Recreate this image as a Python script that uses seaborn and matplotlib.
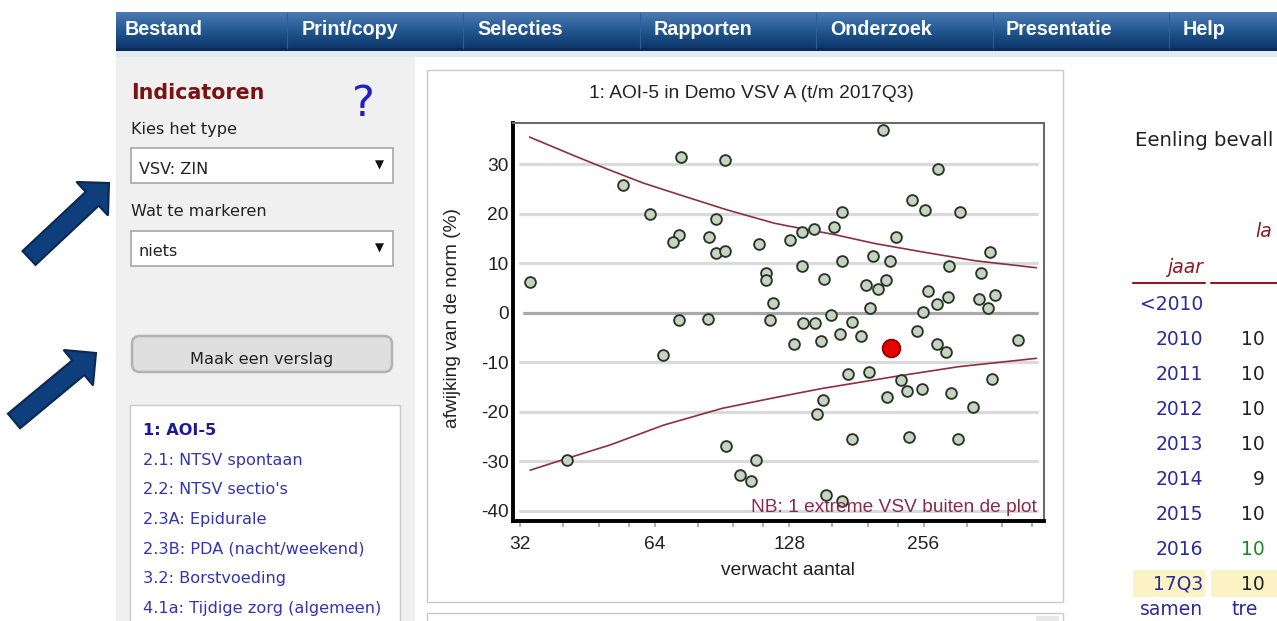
import matplotlib
matplotlib.use("Agg")
import numpy as np
import pandas as pd
import matplotlib.pyplot as plt
import seaborn as sns
from matplotlib import font_manager as fm
from matplotlib.colors import LinearSegmentedColormap
from matplotlib.patches import Rectangle, FancyBboxPatch, FancyArrow
from matplotlib.ticker import NullFormatter

# ---------------- data ----------------
expected = [33.6, 54.5, 62.5, 73.2, 92.0, 87.8, 72.7, 70.5, 84.7, 88.0,
            92.0, 109.8, 113.7, 113.7, 118.0, 72.7, 84.5, 116.0, 67.0, 40.8,
            92.5, 108.0, 99.5, 105.0, 207.5, 276.0, 241.7, 258.0, 309.0, 167.8,
            128.9, 136.6, 145.4, 161.7, 221.7, 360.6, 136.6, 167.8, 196.9, 215.0,
            292.0, 344.5, 153.6, 189.9, 202.8, 210.7, 262.5, 290.0, 275.0, 341.0,
            370.0, 356.6, 194.3, 255.8, 137.8, 146.3, 158.9, 176.8, 247.0, 131.5,
            150.7, 166.5, 185.5, 275.0, 287.5, 416.0, 173.8, 193.6, 227.5, 235.4,
            253.6, 211.7, 295.0, 363.7, 330.9, 152.2, 147.9, 176.8, 237.5, 305.3,
            154.9, 167.8]
deviation = [6.2, 25.8, 20.0, 31.5, 30.9, 18.9, 15.7, 14.3, 15.4, 12.1,
             12.5, 13.9, 8.0, 6.6, 2.0, -1.5, -1.2, -1.5, -8.5, -29.7,
             -27.0, -29.7, -32.8, -33.9, 36.9, 29.1, 22.8, 20.8, 20.3, 20.4,
             14.7, 16.4, 16.9, 17.3, 15.4, 12.2, 9.45, 10.5, 11.5, 10.5,
             9.45, 8.0, 6.9, 5.6, 4.8, 6.6, 4.5, 3.1, 1.7, 2.7,
             3.5, 0.9, 0.9, 0.2, -2.1, -2.1, -0.45, -1.8, -3.6, -6.4,
             -5.7, -4.3, -4.7, -6.4, -7.9, -5.4, -12.4, -12.0, -13.6, -15.9,
             -15.3, -17.1, -16.3, -13.4, -19.1, -17.6, -20.4, -25.4, -25.0, -25.4,
             -36.9, -38.0]
focus_expected = [217.0]
focus_deviation = [-7.2]

upper_x = [33.6, 42.9, 50.9, 60.4, 74.2, 92.9, 118.6, 128.0, 161.7, 199.0, 258.0, 335.0, 458.0]
upper_y = [35.5, 31.5, 28.8, 26.2, 23.6, 20.8, 18.1, 17.5, 15.8, 14.0, 12.2, 10.5, 9.1]
lower_x = [33.7, 40.8, 50.9, 67.0, 90.7, 118.0, 151.5, 220.0, 306.0, 458.0]
lower_y = [-31.8, -29.4, -26.7, -22.7, -19.3, -17.2, -15.3, -12.9, -10.9, -9.2]

x_ticks = [32, 64, 128, 256]
x_minor = [40, 48, 56, 80, 96, 112, 160, 192, 224, 320, 384, 448]
y_ticks = [-40, -30, -20, -10, 0, 10, 20, 30]

chart_title = "1: AOI-5 in Demo VSV A (t/m 2017Q3)"
x_label = "verwacht aantal"
y_label = "afwijking van de norm (%)"
note = "NB: 1 extreme VSV buiten de plot"

menu_items = ["Bestand", "Print/copy", "Selecties", "Rapporten",
              "Onderzoek", "Presentatie", "Help"]
indicators = ["1: AOI-5", "2.1: NTSV spontaan", "2.2: NTSV sectio's",
              "2.3A: Epidurale", "2.3B: PDA (nacht/weekend)",
              "3.2: Borstvoeding", "4.1a: Tijdige zorg (algemeen)"]
years = ["<2010", "2010", "2011", "2012", "2013", "2014", "2015", "2016", "17Q3", "samen"]
year_counts = ["", "10", "10", "10", "10", "9", "10", "10", "10", "tre"]

df = pd.DataFrame({"verwacht": expected, "afwijking": deviation})
df_focus = pd.DataFrame({"verwacht": focus_expected, "afwijking": focus_deviation})
df_up = pd.DataFrame({"verwacht": upper_x, "grens": upper_y})
df_lo = pd.DataFrame({"verwacht": lower_x, "grens": lower_y})

# ---------------- style ----------------
sns.set_theme(style="white")
plt.rcParams['font.family'] = ['Liberation Sans', 'DejaVu Sans']
plt.rcParams['axes.unicode_minus'] = False

names = {f.name for f in fm.fontManager.ttflist}
if 'Liberation Sans Narrow' in names:
    menu_font, menu_size = ['Liberation Sans Narrow', 'DejaVu Sans'], 16.8
else:
    menu_font, menu_size = ['Liberation Sans', 'DejaVu Sans'], 14.2
ui_font = ['DejaVu Sans']

W, H = 1277, 621
fig = plt.figure(figsize=(W / 100, H / 100), dpi=100)
fig.patch.set_facecolor('white')

# ---------------- page chrome (pixel coordinates) ----------------
ui = fig.add_axes([0, 0, 1, 1], zorder=0)
ui.axis('off')

grad = np.linspace(0, 1, 64).reshape(-1, 1)
cmap = LinearSegmentedColormap.from_list('menu', ['#4a7bb2', '#245791', '#0b3568'])
ui.imshow(grad, extent=[116, W, 49, 12], cmap=cmap, aspect='auto',
          interpolation='bilinear', zorder=1)
ui.add_patch(Rectangle((116, 48), W - 116, 3, fc='#0a2b55', ec='none', zorder=2))
ui.add_patch(Rectangle((116, 51), W - 116, 6, fc='#e2ebf3', ec='none', zorder=2))
for i in range(1, len(menu_items)):
    xs = 110 + i * 176.5
    ui.plot([xs, xs], [13, 48], color='#2d5f96', lw=0.8, zorder=3)
for i, item in enumerate(menu_items):
    ui.text(125 + i * 176.2, 35, item, ha='left', va='baseline', color='white',
            fontsize=menu_size, fontweight='bold', family=menu_font, zorder=4)

# left panel
ui.add_patch(Rectangle((116, 57), 299, H - 57, fc='#f0f0f0', ec='none', zorder=1))
ui.text(131, 99.3, "Indicatoren", ha='left', va='baseline', color='#7a1212',
        fontsize=14.9, fontweight='bold', family=ui_font, zorder=4)
ui.text(363, 104, "?", ha='center', va='center', color='#1f1fc4',
        fontsize=31, family=ui_font, zorder=4)
ui.text(131, 134, "Kies het type", ha='left', va='baseline', color='#222222',
        fontsize=11.6, family=ui_font, zorder=4)
ui.text(131, 216, "Wat te markeren", ha='left', va='baseline', color='#222222',
        fontsize=11.6, family=ui_font, zorder=4)
for top, label, base in [(148, "VSV: ZIN", 174), (231, "niets", 256)]:
    ui.add_patch(Rectangle((131, top), 262, 35, fc='white', ec='#a6a6a6', lw=1.2, zorder=2))
    ui.text(139, base, label, ha='left', va='baseline', color='#222222',
            fontsize=11.6, family=ui_font, zorder=4)
    ui.text(379, top + 17, "\u25BC", ha='center', va='center', color='#111111',
            fontsize=8.5, family=ui_font, zorder=4)
ui.add_patch(FancyBboxPatch((132, 336), 260, 36, boxstyle='round,pad=0,rounding_size=8',
                            fc='#dfdfdf', ec='#b3b3b3', lw=1.8, zorder=2))
ui.text(262, 364, "Maak een verslag", ha='center', va='baseline', color='#222222',
        fontsize=11.6, family=ui_font, zorder=4)
ui.add_patch(Rectangle((130, 405), 270, 240, fc='white', ec='#c9c9c9', lw=1.0, zorder=2))
for i, item in enumerate(indicators):
    ui.text(143, 435 + i * 29.7, item, ha='left', va='baseline',
            color='#1a1a98' if i == 0 else '#3434b4',
            fontweight='bold' if i == 0 else 'normal',
            fontsize=11.6, family=ui_font, zorder=4)

# arrows
for (x0, y0, dx, dy) in [(29, 258, 80, -75), (14, 421, 82, -68)]:
    ui.add_patch(FancyArrow(x0, y0, dx, dy, width=19, head_width=46, head_length=23,
                            length_includes_head=True, fc='#0e3f7c', ec='#0a2850',
                            lw=1.5, zorder=5))

# chart panel
ui.add_patch(Rectangle((427, 70), 636, 532, fc='white', ec='#cbcbcb', lw=1.0, zorder=1))
ui.add_patch(Rectangle((427, 613), 636, 30, fc='white', ec='#cbcbcb', lw=1.0, zorder=1))
ui.add_patch(Rectangle((1036, 616), 23, 20, fc='#e8e8e8', ec='none', zorder=2))

# right table
ui.text(1135, 146, "Eenling bevall", ha='left', va='baseline', color='#222222',
        fontsize=14.2, family=ui_font, zorder=4)
ui.text(1255, 237, "la", ha='left', va='baseline', color='#8b1a2a',
        fontsize=13.5, style='italic', family=ui_font, zorder=4)
ui.text(1203, 273, "jaar", ha='right', va='baseline', color='#8b1a2a',
        fontsize=13.5, style='italic', family=ui_font, zorder=4)
ui.plot([1133, 1205], [283, 283], color='#8b1a2a', lw=1.5, zorder=3)
ui.plot([1211, 1277], [283, 283], color='#8b1a2a', lw=1.5, zorder=3)
ui.add_patch(Rectangle((1133, 570), 72, 27, fc='#fbf3c4', ec='none', zorder=2))
ui.add_patch(Rectangle((1211, 570), 66, 27, fc='#fbf3c4', ec='none', zorder=2))
for i, (yr, cnt) in enumerate(zip(years, year_counts)):
    base = 310 + i * 35 if yr != "samen" else 615
    ui.text(1203, base, yr, ha='right', va='baseline', color='#2b2b9b',
            fontsize=13.5, family=ui_font, zorder=4)
    if yr == "samen":
        ui.text(1232, base, cnt, ha='left', va='baseline', color='#2b2b9b',
                fontsize=13.5, family=ui_font, zorder=4)
    elif cnt:
        ui.text(1265, base, cnt, ha='right', va='baseline',
                color='#1c8a1c' if yr == "2016" else '#222222',
                fontsize=13.5, family=ui_font, zorder=4)

ui.set_xlim(0, W)
ui.set_ylim(H, 0)

# ---------------- the chart ----------------
L, R, T, B = 513.3, 1044.3, 122.7, 520.7
ax = fig.add_axes([L / W, 1 - B / H, (R - L) / W, (B - T) / H], zorder=3)
ax.set_facecolor('white')
ax.set_xscale('log', base=2)

for t in y_ticks:
    ax.axhline(t, xmin=0.012 if t else 0.02, xmax=0.986,
               color='#a9a9a9' if t == 0 else '#dadada', lw=2.3, zorder=0)

sns.lineplot(data=df_up, x="verwacht", y="grens", ax=ax, color='#8b3040', lw=1.2,
             estimator=None, sort=False, zorder=2)
sns.lineplot(data=df_lo, x="verwacht", y="grens", ax=ax, color='#8b3040', lw=1.2,
             estimator=None, sort=False, zorder=2)
sns.scatterplot(data=df, x="verwacht", y="afwijking", ax=ax, s=60, color='#c6d5c0',
                edgecolor='#2a352a', linewidth=1.35, zorder=3)
sns.scatterplot(data=df_focus, x="verwacht", y="afwijking", ax=ax, s=165, color='#e60000',
                edgecolor='#8a0000', linewidth=1.2, zorder=4)

ax.set_xlim(30.9, 477)
ax.set_ylim(-42.0, 38.4)
ax.set_xticks(x_ticks)
ax.set_xticklabels([str(t) for t in x_ticks])
ax.set_xticks(x_minor, minor=True)
ax.xaxis.set_minor_formatter(NullFormatter())
ax.set_yticks(y_ticks)
ax.set_yticklabels([str(t) for t in y_ticks])
ax.tick_params(axis='x', which='both', bottom=True, direction='out', length=4.5,
               width=1.1, color='#9a9a9a', pad=6.5, labelsize=13.8, labelcolor='#222222')
ax.tick_params(axis='y', left=False, length=0, pad=3.5, labelsize=13.8, labelcolor='#222222')

for s in ['left', 'bottom']:
    ax.spines[s].set_color('black')
    ax.spines[s].set_linewidth(2.8)
for s in ['top', 'right']:
    ax.spines[s].set_color('#6a6a6a')
    ax.spines[s].set_linewidth(1.5)

ax.set_title(chart_title, x=0.448, y=1.052, va='center', fontsize=13.8, color='#222222')
ax.set_xlabel(x_label, fontsize=13.8, color='#222222')
ax.set_ylabel(y_label, fontsize=13.8, color='#222222')
ax.xaxis.set_label_coords(0.517, -0.104)
ax.yaxis.set_label_coords(-0.0985, 0.51)
ax.text(0.9857, 0.0327, note, transform=ax.transAxes, ha='right', va='center',
        fontsize=13.8, color='#8a2a48', zorder=5)

fig.savefig("out.png", dpi=100, facecolor='white')
